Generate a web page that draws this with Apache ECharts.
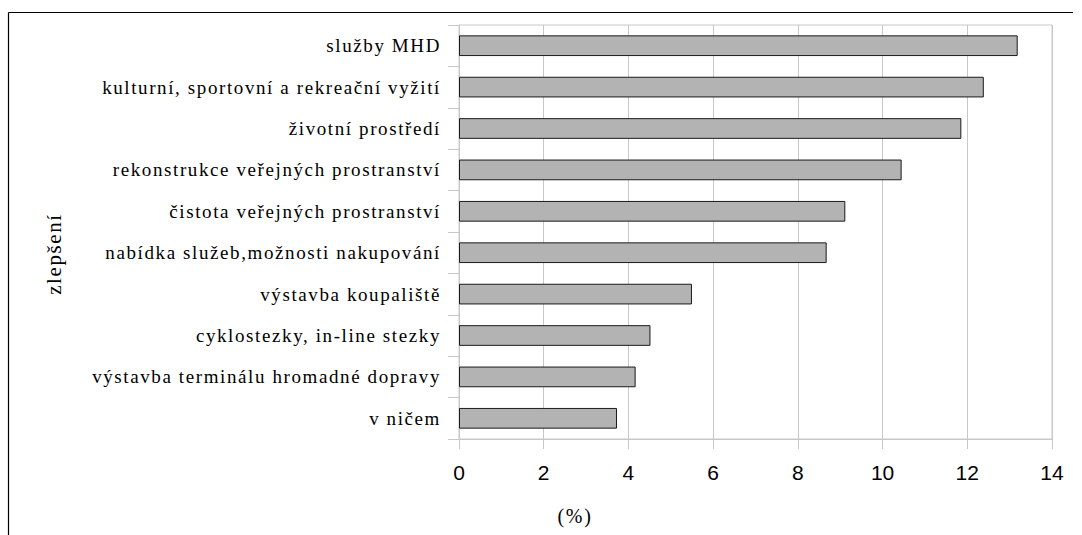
<!DOCTYPE html>
<html>
<head>
<meta charset="utf-8">
<script src="https://cdn.jsdelivr.net/npm/echarts@6/dist/echarts.min.js"></script>
<style>
html,body{margin:0;padding:0;background:#fff;}
#c{width:1082px;height:535px;}
#c svg text[style*="Serif"]{letter-spacing:1.6px;}
</style>
</head>
<body>
<div id="c"></div>
<script>
const categories = [
  'služby MHD',
  'kulturní, sportovní a rekreační vyžití',
  'životní prostředí',
  'rekonstrukce veřejných prostranství',
  'čistota veřejných prostranství',
  'nabídka služeb,možnosti nakupování',
  'výstavba koupaliště',
  'cyklostezky, in-line stezky',
  'výstavba terminálu hromadné dopravy',
  'v ničem'
];
const values = [13.19, 12.39, 11.86, 10.45, 9.12, 8.68, 5.50, 4.52, 4.17, 3.73];
const xMin = 0, xMax = 14, xStep = 2;
const xAxisTitle = '(%)';
const yAxisTitle = 'zlepšení';

const serif = '"Liberation Serif", serif';
const chart = echarts.init(document.getElementById('c'), null, {renderer: 'svg'});
const gridCol = '#c8c8c8';
chart.setOption({
  animation: false,
  backgroundColor: '#fff',
  grid: {left: 459, right: 30, top: 25, bottom: 96, containLabel: false,
         show: true, borderColor: gridCol, borderWidth: 1},
  xAxis: {
    type: 'value', min: xMin, max: xMax, interval: xStep,
    axisLine: {show: true, lineStyle: {color: gridCol, width: 1}},
    axisTick: {show: true, length: 10, lineStyle: {color: gridCol}},
    splitLine: {show: true, lineStyle: {color: gridCol, width: 1}},
    axisLabel: {fontFamily: '"Liberation Sans", sans-serif', fontSize: 21, color: '#000', margin: 23}
  },
  yAxis: {
    type: 'category', data: categories, inverse: true,
    axisLine: {show: true, lineStyle: {color: gridCol, width: 1}},
    axisTick: {show: true, length: 11, lineStyle: {color: gridCol}},
    axisLabel: {fontFamily: serif, fontSize: 19, color: '#000', margin: 18, padding: [5, 0, 0, 0]}
  },
  series: [{
    type: 'bar', data: values, barCategoryGap: '50%',
    itemStyle: {color: '#b3b3b3', borderColor: '#1a1a1a', borderWidth: 1}
  }],
  graphic: [
    {type: 'line', shape: {x1: 8.5, y1: 12.5, x2: 1073, y2: 12.5}, style: {stroke: '#000', lineWidth: 1.2}},
    {type: 'line', shape: {x1: 8.5, y1: 12.5, x2: 8.5, y2: 535}, style: {stroke: '#000', lineWidth: 1.2}},
    {type: 'text', x: 575, y: 516, style: {text: xAxisTitle, fontFamily: serif, fontSize: 20, fill: '#000',
      textAlign: 'center', textVerticalAlign: 'middle'}},
    {type: 'text', x: 54, y: 254, rotation: Math.PI / 2, style: {text: yAxisTitle, fontFamily: serif, fontSize: 21,
      fill: '#000', textAlign: 'center', textVerticalAlign: 'middle'}}
  ]
});
</script>
</body>
</html>
